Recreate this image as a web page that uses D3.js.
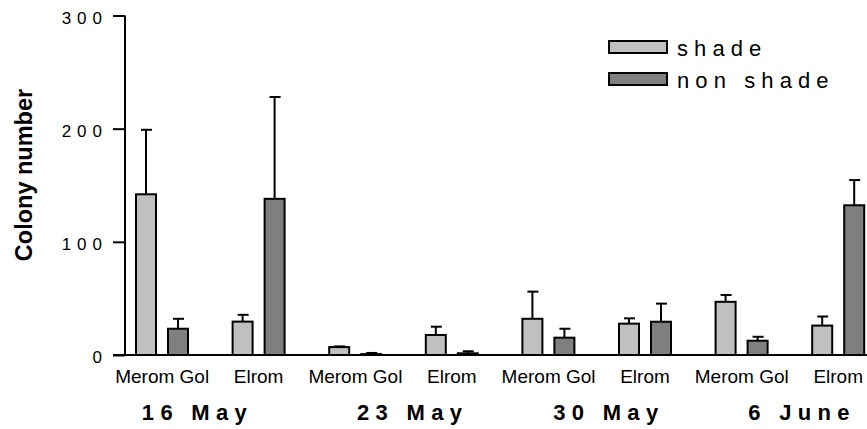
<!DOCTYPE html>
<html>
<head>
<meta charset="utf-8">
<script src="https://cdn.jsdelivr.net/npm/d3@7"></script>
<style>
  body { margin: 0; background: #fff; }
  svg { display: block; font-family: "Liberation Sans", Arial, sans-serif; }
</style>
</head>
<body>
<svg id="chart" width="867" height="429"></svg>
<script>
// sampling dates, two sites per date
let dates = ['16 May', '23 May', '30 May', '6 June'];
let sites = ['Merom Golan', 'Elrom'];
let series = ['shade', 'non shade'];

// one value per date/site, in date order (Merom Golan, Elrom, ...)
let shadeMean = [142, 29.5, 7, 17.7, 32, 27.7, 47, 26];
let shadeErr = [57, 6, 0.6, 7.3, 24, 4.7, 6, 8];
let nonShadeMean = [23.2, 138, 0.8, 1.5, 15.3, 29.4, 12.6, 132.3];
let nonShadeErr = [8.8, 90, 1, 1.8, 7.9, 16, 3.5, 22.3];

let yTicks = [0, 100, 200, 300];

let svg = d3.select('#chart');
let width = 867;

// layout
let axisX = 125, y0 = 355, yTop = 15.5;
let bandStart = 113.7, bandStep = 96.6;
let dateLabelShift = [-16, 6, 9, 9];

let categories = [];
dates.forEach(function (d) {
  sites.forEach(function (s) { categories.push(d + '|' + s); });
});

let rows = categories.map(function (c, i) {
  return {
    key: c,
    date: c.split('|')[0],
    site: c.split('|')[1],
    values: [
      {series: 'shade', mean: shadeMean[i], err: shadeErr[i]},
      {series: 'non shade', mean: nonShadeMean[i], err: nonShadeErr[i]}
    ]
  };
});

let x = d3.scaleBand()
    .domain(categories)
    .range([bandStart, bandStart + bandStep * categories.length])
    .padding(0);

let xInner = d3.scaleBand()
    .domain(series)
    .range([bandStep / 2 - 27, bandStep / 2 + 27])
    .paddingInner(0.3125);

let y = d3.scaleLinear().domain([0, 300]).range([y0, yTop]);

let color = d3.scaleOrdinal().domain(series).range(['#c0c0c0', '#7f7f7f']);

// bars + error bars
let groups = svg.append('g').selectAll('g')
    .data(rows)
    .enter().append('g')
    .attr('transform', function (d) { return 'translate(' + x(d.key) + ',0)'; });

let bars = groups.selectAll('g.bar')
    .data(function (d) { return d.values; })
    .enter().append('g').attr('class', 'bar');

bars.append('line')
    .attr('x1', function (d) { return xInner(d.series) + xInner.bandwidth() / 2; })
    .attr('x2', function (d) { return xInner(d.series) + xInner.bandwidth() / 2; })
    .attr('y1', function (d) { return y(d.mean); })
    .attr('y2', function (d) { return y(d.mean + d.err); })
    .attr('stroke', '#000').attr('stroke-width', 2);

bars.append('line')
    .attr('x1', function (d) { return xInner(d.series) + xInner.bandwidth() / 2 - 5; })
    .attr('x2', function (d) { return xInner(d.series) + xInner.bandwidth() / 2 + 6; })
    .attr('y1', function (d) { return y(d.mean + d.err); })
    .attr('y2', function (d) { return y(d.mean + d.err); })
    .attr('stroke', '#000').attr('stroke-width', 2);

bars.append('rect')
    .attr('x', function (d) { return xInner(d.series) + 1; })
    .attr('width', xInner.bandwidth() - 2)
    .attr('y', function (d) { return y(d.mean); })
    .attr('height', function (d) { return y0 - y(d.mean); })
    .attr('fill', function (d) { return color(d.series); })
    .attr('stroke', '#000').attr('stroke-width', 2);

// axes
let yAxis = d3.axisLeft(y).tickValues(yTicks).tickSize(12).tickFormat('');
let yg = svg.append('g').attr('transform', 'translate(' + axisX + ',0)').call(yAxis);
yg.select('.domain').attr('d', 'M0,' + yTop + 'V' + y0).attr('stroke-width', 2);
yg.selectAll('.tick line').attr('stroke-width', 2);

svg.append('line')
    .attr('x1', axisX - 12).attr('x2', width)
    .attr('y1', y0).attr('y2', y0)
    .attr('stroke', '#000').attr('stroke-width', 2);

svg.append('g').selectAll('text')
    .data(yTicks)
    .enter().append('text')
    .attr('x', 59)
    .attr('y', function (d) { return y(d) + 8; })
    .attr('font-size', 17)
    .attr('letter-spacing', 6)
    .text(function (d) { return d; })
    .each(function () {
      // right-align the last glyph at x=102
      let w = this.getComputedTextLength();
      d3.select(this).attr('x', 102 + 6 - w);
    });

// y title
svg.append('text')
    .attr('transform', 'translate(32,' + 175 + ') rotate(-90)')
    .attr('text-anchor', 'middle')
    .attr('font-size', 23.5)
    .attr('font-weight', 'bold')
    .text('Colony number');

// site labels, clipped to their band
let defs = svg.append('defs');
rows.forEach(function (d, i) {
  defs.append('clipPath').attr('id', 'clip' + i)
      .append('rect')
      .attr('x', x(d.key)).attr('y', 360)
      .attr('width', x.bandwidth() - 1.5).attr('height', 30);
});

svg.append('g').selectAll('text')
    .data(rows)
    .enter().append('text')
    .attr('clip-path', function (d, i) { return 'url(#clip' + i + ')'; })
    .attr('y', 383)
    .attr('font-size', 19)
    .text(function (d) { return d.site; })
    .each(function (d) {
      let w = this.getComputedTextLength();
      let cx = x(d.key) + x.bandwidth() / 2;
      let left = w > x.bandwidth() - 2 ? x(d.key) + 1.5 : cx - w / 2;
      d3.select(this).attr('x', left);
    });

// date labels
svg.append('g').selectAll('text')
    .data(dates)
    .enter().append('text')
    .attr('y', 420)
    .attr('font-size', 22)
    .attr('font-weight', 'bold')
    .attr('letter-spacing', 6.3)
    .text(function (d) { return d; })
    .each(function (d, i) {
      let w = this.getComputedTextLength() - 6.3;
      let cx = x(d + '|' + sites[0]) + x.bandwidth() + dateLabelShift[i];
      d3.select(this).attr('x', cx - w / 2);
    });

// legend
let legend = svg.append('g').selectAll('g')
    .data(series)
    .enter().append('g')
    .attr('transform', function (d, i) { return 'translate(609,' + (41 + i * 32) + ')'; });

legend.append('rect')
    .attr('width', 58).attr('height', 12)
    .attr('fill', function (d) { return color(d); })
    .attr('stroke', '#000').attr('stroke-width', 2);

legend.append('text')
    .attr('x', 68).attr('y', 15)
    .attr('font-size', 22)
    .attr('letter-spacing', 6.1)
    .text(function (d) { return d; });
</script>
</body>
</html>
